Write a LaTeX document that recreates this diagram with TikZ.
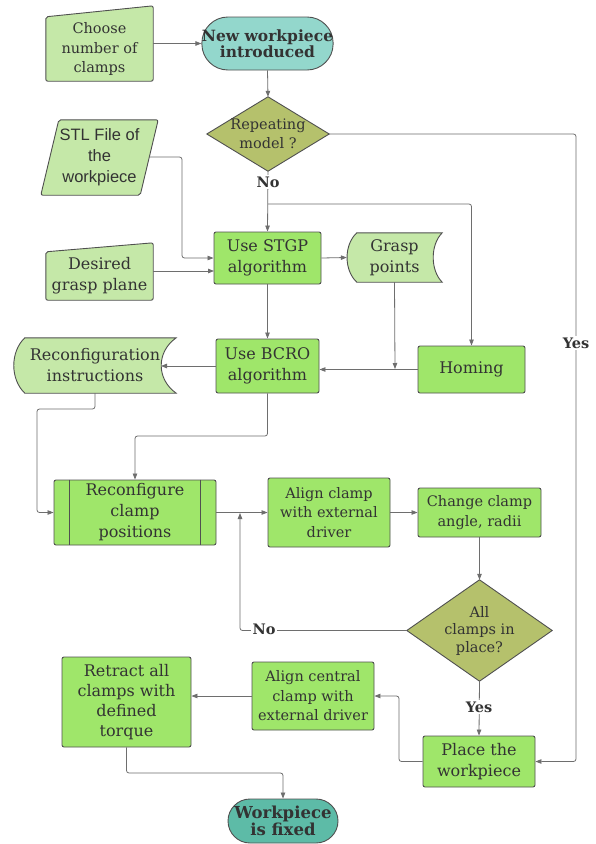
\documentclass[tikz,border=0pt]{standalone}
\usepackage{fontspec}
\setmainfont{DejaVu Serif}
\newfontfamily\stlsans{Liberation Sans}
\usetikzlibrary{arrows.meta,backgrounds,calc}
\definecolor{lightg}{HTML}{C5E8A8}
\definecolor{procg}{HTML}{9FE66A}
\definecolor{tealA}{HTML}{93D7CC}
\definecolor{tealB}{HTML}{5DBBA7}
\definecolor{oliv}{HTML}{B5C16C}
\definecolor{bord}{HTML}{505050}
\definecolor{linec}{HTML}{6E6E6E}
\definecolor{txt}{HTML}{333333}
\begin{document}
\begin{tikzpicture}[x=1pt,y=-1pt,
  big/.style={font=\fontsize{16}{21}\selectfont},
  small/.style={font=\fontsize{14.5}{19.5}\selectfont},
  boldt/.style={font=\bfseries\fontsize{15.5}{16.5}\selectfont},
  ghost/.style={inner sep=0pt, align=center, text=txt},
  proc/.style={ghost, draw=bord, fill=procg, rounded corners=2pt, line width=0.9pt},
  shp/.style={draw=bord, line width=0.9pt},
  conn/.style={draw=linec, line width=0.8pt, -{Triangle[length=6pt,width=4.5pt]}, rounded corners=2.5pt},
  lbl/.style={font=\bfseries\fontsize{14.5}{16}\selectfont, text=txt, fill=white, inner sep=1.5pt}
]
\useasboundingbox (0,0) rectangle (596,844);

% ---------- nodes ----------
\node[ghost, small, minimum width=107pt, minimum height=64pt] (choose) at (99.5,49) {Choose\\number of\\clamps};
\node[ghost, boldt, draw=bord, fill=tealA, line width=0.9pt, rounded corners=26pt, minimum width=131pt, minimum height=53pt] (new) at (267.5,43.5) {New workpiece\\introduced};
\node[ghost, small, minimum width=122pt, minimum height=74pt] (rep) at (268,134) {Repeating\\model ?};
\node[ghost, font=\stlsans\fontsize{16.5}{21}\selectfont, minimum width=117pt, minimum height=75pt] (stl) at (99.5,157.5) {STL File of\\the\\workpiece};
\node[ghost, big, minimum width=107pt, minimum height=48pt] (desired) at (99.5,276) {Desired\\grasp plane};
\node[proc, big, minimum width=107pt, minimum height=52pt] (stgp) at (267.5,258) {Use STGP\\algorithm};
\node[ghost, big, minimum width=95pt, minimum height=49pt] (grasp) at (394.5,257.5) {Grasp\\points};
\node[proc, big, minimum width=103pt, minimum height=54pt] (bcro) at (267.5,366) {Use BCRO\\algorithm};
\node[proc, big, minimum width=107pt, minimum height=47pt] (homing) at (471.5,369.5) {Homing};
\node[ghost, big, minimum width=162pt, minimum height=55pt] (recon) at (95,365.5) {Reconfiguration\\instructions};
\node[proc, big, minimum width=162pt, minimum height=65pt] (reconf) at (135,512.5) {Reconfigure\\clamp\\positions};
\node[proc, small, minimum width=122pt, minimum height=69pt] (align) at (329,512.5) {Align clamp\\with external\\driver};
\node[proc, small, minimum width=123pt, minimum height=49pt] (change) at (479.5,512.5) {Change clamp\\angle, radii};
\node[ghost, font=\fontsize{14.5}{17.5}\selectfont, minimum width=145pt, minimum height=101pt] (all) at (479.5,630.5) {All\\clamps in\\place?};
\node[proc, big, minimum width=112pt, minimum height=51pt] (place) at (479,761.5) {Place the\\workpiece};
\node[proc, small, minimum width=122pt, minimum height=68pt] (alignc) at (313,696) {Align central\\clamp with\\external driver};
\node[proc, font=\fontsize{16}{20}\selectfont, minimum width=129pt, minimum height=90pt] (retract) at (126.5,702) {Retract all\\clamps with\\defined\\torque};
\node[ghost, font=\bfseries\fontsize{16.5}{16.5}\selectfont, draw=bord, fill=tealB, line width=0.9pt, rounded corners=22pt, minimum width=110pt, minimum height=44pt] (fixed) at (283,821) {Workpiece\\is fixed};

% ---------- custom shapes ----------
\begin{scope}[on background layer]
  \fill[white] (0,0) rectangle (596,844);
  \filldraw[shp, fill=lightg, rounded corners=2pt] (choose.south west) -- (choose.south east) -- ($(choose.north east)+(0,-11)$) -- (choose.north west) -- cycle;
  \filldraw[shp, fill=lightg, rounded corners=2pt] (desired.south west) -- (desired.south east) -- ($(desired.north east)+(0,-9)$) -- (desired.north west) -- cycle;
  \filldraw[shp, fill=lightg, rounded corners=2pt] ($(stl.north west)+(18,0)$) -- (stl.north east) -- ($(stl.south east)+(-18,0)$) -- (stl.south west) -- cycle;
  \filldraw[shp, fill=oliv] (rep.north) -- (rep.east) -- (rep.south) -- (rep.west) -- cycle;
  \filldraw[shp, fill=oliv] (all.north) -- (all.east) -- (all.south) -- (all.west) -- cycle;
  \filldraw[shp, fill=lightg] ($(grasp.north west)+(10,0)$) -- (grasp.north east)
     .. controls ($(grasp.north east)+(-12,12)$) and ($(grasp.south east)+(-12,-12)$) .. (grasp.south east)
     -- ($(grasp.south west)+(10,0)$)
     .. controls ($(grasp.south west)+(-3,-12)$) and ($(grasp.north west)+(-3,12)$) .. ($(grasp.north west)+(10,0)$) -- cycle;
  \filldraw[shp, fill=lightg] ($(recon.north west)+(11,0)$) -- (recon.north east)
     .. controls ($(recon.north east)+(-20,14)$) and ($(recon.south east)+(-20,-14)$) .. (recon.south east)
     -- ($(recon.south west)+(11,0)$)
     .. controls ($(recon.south west)+(-3.7,-14)$) and ($(recon.north west)+(-3.7,14)$) .. ($(recon.north west)+(11,0)$) -- cycle;
\end{scope}
\draw[shp] ($(reconf.north west)+(16,0)$) -- ($(reconf.south west)+(16,0)$);
\draw[shp] ($(reconf.north east)+(-16,0)$) -- ($(reconf.south east)+(-16,0)$);

% ---------- helper coordinates ----------
\coordinate (ycol) at (576,400);
\coordinate (br) at (268,204);
\coordinate (stlr) at (149,157);
\coordinate (stlturn) at (182,157);
\coordinate (dgin) at (214,271);
\coordinate (gpj) at (395,369);
\coordinate (reconin) at (161,366);
\coordinate (lcol) at (37,409);
\coordinate (mcol) at (135,436);
\coordinate (noup) at (240,513);
\coordinate (pcol) at (399,696);
\coordinate (fcol) at (283,773);

% ---------- connectors ----------
\draw[conn] (choose.east |- new.west) -- (new.west);
\draw[conn] (new.south) -- (rep.north);
\draw[conn] (rep.east) -| (ycol) |- (place.east);
\draw[conn] (rep.south) -- (stgp.north);
\draw[conn] (br) -| (homing.north);
\draw[conn] (stlr) -- (stlturn) |- (stgp.west);
\draw[conn] (desired.east |- dgin) -- (dgin);
\draw[conn] (stgp.east) -- (grasp.west);
\draw[conn] (stgp.south) -- (bcro.north);
\draw[conn] (grasp.south) -- (gpj);
\draw[conn] (homing.west) -- (homing.west -| bcro.east);
\draw[conn] (bcro.west) -- (reconin);
\draw[conn] (recon.south) |- (lcol) |- (reconf.west);
\draw[conn] (bcro.south) |- (mcol) -- (reconf.north);
\draw[conn] (reconf.east) -- (align.west);
\draw[conn] (align.east) -- (change.west);
\draw[conn] (change.south) -- (all.north);
\draw[conn] (all.west) -| (noup);
\draw[conn] (all.south) -- (place.north);
\draw[conn] (place.west) -| (pcol) -- (alignc.east);
\draw[conn] (alignc.west) -- (alignc.west -| retract.east);
\draw[conn] (retract.south) |- (fcol) -- (fixed.north);

% ---------- labels ----------
\node[lbl] (lno1) at (268,182) {No};
\node[lbl] (lyes1) at (576,343) {Yes};
\node[lbl] (lno2) at (264,629) {No};
\node[lbl] (lyes2) at (479,707) {Yes};
\end{tikzpicture}
\end{document}
